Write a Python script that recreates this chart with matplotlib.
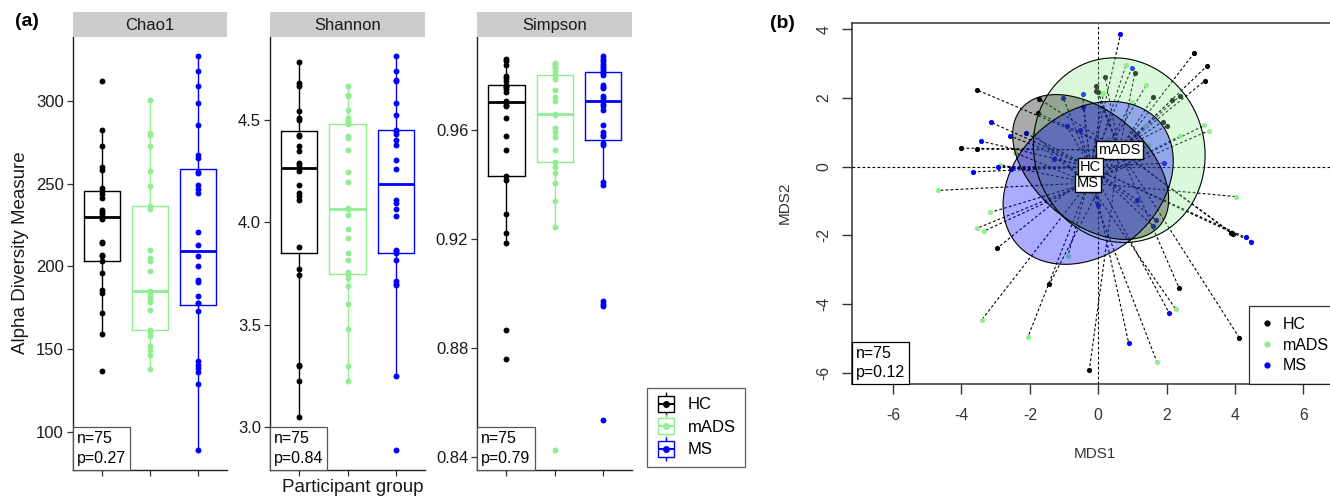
import numpy as np
import matplotlib
matplotlib.use("Agg")
import matplotlib.pyplot as plt
from matplotlib.lines import Line2D
from matplotlib.offsetbox import AnchoredText
from matplotlib.legend_handler import HandlerTuple

plt.rcParams['font.family'] = ['Liberation Sans', 'DejaVu Sans']

# ---------------- data: panel (a) alpha diversity ----------------
groups = ["HC", "mADS", "MS"]
group_colors = ["black", "lightgreen", "blue"]

chao1_hc = [312.3, 282.8, 272.7, 260.0, 258.2, 247.5, 245.5, 243.9, 241.7, 234.4, 233.2, 231.6,
            230.0, 229.0, 215.0, 214.0, 207.1, 206.1, 203.3, 196.0, 186.0, 184.0, 171.8, 159.1, 136.9]
chao1_mads = [301.0, 280.8, 279.8, 273.1, 257.6, 248.9, 236.4, 234.8, 210.2, 205.1, 203.1, 197.1,
              185.4, 183.9, 182.3, 180.5, 178.3, 173.9, 161.7, 160.1, 157.7, 151.7, 149.6, 146.6, 137.9]
chao1_ms = [327.2, 318.1, 309.0, 299.0, 285.8, 267.7, 265.7, 257.0, 256.5, 249.5, 246.9, 244.5, 220.9,
            212.8, 206.1, 200.1, 192.0, 190.4, 181.9, 178.0, 177.9, 172.8, 142.6, 140.6, 138.5,
            135.9, 128.9, 88.7]

shannon_hc = [4.782, 4.681, 4.668, 4.542, 4.510, 4.502, 4.428, 4.420, 4.371, 4.347, 4.290, 4.279,
              4.249, 4.184, 4.143, 4.127, 4.111, 3.879, 3.772, 3.744, 3.305, 3.296, 3.223, 3.049]
shannon_mads = [4.665, 4.624, 4.616, 4.550, 4.510, 4.494, 4.490, 4.480, 4.423, 4.412, 4.355, 4.244,
                4.195, 4.070, 4.065, 4.037, 3.967, 3.923, 3.850, 3.818, 3.756, 3.750, 3.750, 3.728,
                3.687, 3.601, 3.479, 3.300, 3.226]
shannon_ms = [4.811, 4.738, 4.697, 4.689, 4.583, 4.526, 4.453, 4.445, 4.430, 4.400, 4.376, 4.306,
              4.261, 4.111, 4.094, 4.065, 4.029, 3.866, 3.860, 3.850, 3.814, 3.712, 3.700, 3.695,
              3.248, 2.886]

simpson_hc = [0.9859, 0.9851, 0.9838, 0.9798, 0.9790, 0.9777, 0.9765, 0.9761, 0.9755, 0.9749,
              0.9737, 0.9704, 0.9700, 0.9690, 0.9686, 0.9643, 0.9576, 0.9524, 0.9429, 0.9417,
              0.9291, 0.9221, 0.9185, 0.8867, 0.8758]
simpson_mads = [0.9844, 0.9840, 0.9835, 0.9830, 0.9826, 0.9814, 0.9802, 0.9800, 0.9786, 0.9747,
                0.9719, 0.9706, 0.9658, 0.9655, 0.9606, 0.9590, 0.9573, 0.9527, 0.9480, 0.9462,
                0.9441, 0.9405, 0.9337, 0.9243, 0.8424]
simpson_ms = [0.9869, 0.9860, 0.9853, 0.9842, 0.9835, 0.9826, 0.9818, 0.9812, 0.9808, 0.9800,
              0.9765, 0.9757, 0.9753, 0.9725, 0.9716, 0.9704, 0.9695, 0.9686, 0.9673, 0.9618,
              0.9590, 0.9580, 0.9576, 0.9551, 0.9545, 0.9407, 0.9398, 0.8971, 0.8959, 0.8952,
              0.8534]

metric_names = ["Chao1", "Shannon", "Simpson"]
metric_data = [[chao1_hc, chao1_mads, chao1_ms],
               [shannon_hc, shannon_mads, shannon_ms],
               [simpson_hc, simpson_mads, simpson_ms]]
metric_ticks = [[100, 150, 200, 250, 300], [3.0, 3.5, 4.0, 4.5], [0.84, 0.88, 0.92, 0.96]]
metric_ticklabels = [["100", "150", "200", "250", "300"], ["3.0", "3.5", "4.0", "4.5"],
                     ["0.84", "0.88", "0.92", "0.96"]]
metric_pvalues = ["0.27", "0.84", "0.79"]
n_total = 75

# ---------------- data: panel (b) NMDS ----------------
hc_x = [-3.54, -4.01, -3.54, -1.73, -1.75, -0.07, -0.07, 0.00, 0.20, 2.80, 3.19, 3.12, 1.07, 1.61,
        2.15, 2.39, 1.88, 2.00, -2.97, -1.43, -0.26, 3.95, 3.87, 2.36, 4.12]
hc_y = [2.23, 0.54, 0.51, 1.97, 1.55, 2.35, 2.20, 2.16, 2.60, 3.30, 2.94, 2.50, 2.72, 2.02,
        1.94, 2.06, 1.31, 1.18, -2.38, -3.42, -5.91, -1.96, -1.92, -3.52, -4.97]
mads_x = [-2.87, -4.68, -2.44, -1.56, -0.89, -1.88, 0.15, 0.81, 0.29, -0.78, 1.41, 0.98, 3.10,
          3.24, 2.39, 1.37, 1.46, 4.02, -3.15, -3.54, -3.33, -3.41, -2.05, 2.27, 1.72]
mads_y = [0.06, -0.69, 0.41, 0.51, -2.60, 0.94, 2.13, 2.96, 0.81, -0.45, 2.38, 1.89, 1.20,
          1.05, 0.89, 1.18, 0.63, -0.87, -1.33, -1.79, -1.87, -4.46, -4.94, -4.15, -5.69]
ms_x = [0.65, -3.14, -2.58, -2.11, -3.42, -2.92, -3.65, -2.55, -1.02, -0.92, -1.30, -0.46, -0.44,
        -0.54, 0.98, 1.93, -0.02, 0.89, 4.32, 4.48, 1.68, 1.61, 1.12, 2.08]
ms_y = [3.85, 1.29, 0.89, 0.97, 0.74, 0.00, -0.15, -0.06, 1.99, 1.18, 0.21, 2.11, 1.73,
        1.07, 2.86, 0.10, -1.11, -5.13, -2.06, -2.18, -1.55, -1.74, -0.97, -4.27]
nmds_x = {"HC": hc_x, "mADS": mads_x, "MS": ms_x}
nmds_y = {"HC": hc_y, "mADS": mads_y, "MS": ms_y}
# as published: ellipse colour and centroid label attached to each group
ellipse_color = {"HC": "lightgreen", "mADS": "blue", "MS": "black"}
centroid_label = {"HC": "mADS", "mADS": "MS", "MS": "HC"}
ellipse_order = ["HC", "MS", "mADS"]
nmds_p = "0.12"

# ---------------- figure ----------------
W, H = 1330, 498
fig = plt.figure(figsize=(W / 100, H / 100), dpi=100)


def fax(x0, y0, x1, y1):
    return [x0 / W, 1 - y1 / H, (x1 - x0) / W, (y1 - y0) / H]


panel_x = [(72.7, 227.3), (270.0, 425.0), (477.3, 632.3)]
ax_top, ax_bot, strip_top = 36.7, 470.0, 12.0
tick_col = "#1a1a1a"

for k in range(3):
    x0, x1 = panel_x[k]
    ax = fig.add_axes(fax(x0, ax_top, x1, ax_bot))
    data = metric_data[k]
    bp = ax.boxplot(data, positions=[1, 2, 3], widths=0.75, whis=1.5, showfliers=False,
                    showcaps=False, manage_ticks=False,
                    boxprops=dict(linewidth=1.0), whiskerprops=dict(linewidth=1.0),
                    medianprops=dict(linewidth=2.0))
    for g, col in enumerate(group_colors):
        bp["boxes"][g].set_color(col)
        bp["medians"][g].set_color(col)
        bp["whiskers"][2 * g].set_color(col)
        bp["whiskers"][2 * g + 1].set_color(col)
    for g, (vals, col) in enumerate(zip(data, group_colors)):
        ax.scatter(np.full(len(vals), g + 1), vals, s=18, color=col, zorder=3, linewidths=0)
    allv = np.concatenate([np.asarray(v) for v in data])
    lo, hi = allv.min(), allv.max()
    pad = 0.05 * (hi - lo)
    ax.set_ylim(lo - pad, hi + pad)
    ax.set_xlim(0.4, 3.6)
    ax.set_xticks([1, 2, 3])
    ax.set_xticklabels([])
    ax.set_yticks(metric_ticks[k])
    ax.set_yticklabels(metric_ticklabels[k])
    for s in ["top", "right"]:
        ax.spines[s].set_visible(False)
    for s in ["left", "bottom"]:
        ax.spines[s].set_linewidth(1.0)
        ax.spines[s].set_color("#222222")
    ax.tick_params(axis="both", length=4.5, width=0.9, color="#333333", labelsize=12,
                   labelcolor=tick_col, pad=2)
    at = AnchoredText(f"n={n_total}\np={metric_pvalues[k]}", loc="lower left", frameon=True,
                      borderpad=0, pad=0.25, prop=dict(size=11.5, linespacing=1.4))
    at.patch.set_boxstyle("square,pad=0")
    at.patch.set_edgecolor("#555555")
    at.patch.set_linewidth(0.9)
    ax.add_artist(at)
    # strip
    sax = fig.add_axes(fax(x0, strip_top, x1, ax_top))
    sax.set_facecolor("#cccccc")
    sax.set_xticks([])
    sax.set_yticks([])
    for s in sax.spines.values():
        s.set_visible(False)
    sax.text(0.5, 0.47, metric_names[k], ha="center", va="center", fontsize=12,
             color="#1a1a1a", transform=sax.transAxes)

fig.text(20.7 / W, 1 - 253 / H, "Alpha Diversity Measure", rotation=90, ha="center", va="center",
         fontsize=13.5, color="#1a1a1a")
fig.text(352.5 / W, 1 - 487 / H, "Participant group", ha="center", va="center", fontsize=13.5,
         color="#1a1a1a")
fig.text(27 / W, 1 - 22 / H, "(a)", ha="center", va="center", fontsize=14, fontweight="bold")
fig.text(782 / W, 1 - 24 / H, "(b)", ha="center", va="center", fontsize=14, fontweight="bold")

# legend for panel (a)
handles = []
for col in group_colors:
    h = (Line2D([], [], marker="|", ms=17, mew=1.0, color=col, ls="none"),
         Line2D([], [], marker="s", ms=11, mfc="white", mec=col, mew=1.0, ls="none"),
         Line2D([], [], marker="_", ms=11, mew=1.5, color=col, ls="none"),
         Line2D([], [], marker="o", ms=4, color=col, ls="none"))
    handles.append(h)
leg = fig.legend(handles, groups, handler_map={tuple: HandlerTuple(ndivide=1)},
                 loc="upper left", bbox_to_anchor=(646.7 / W, 1 - 388.3 / H), borderaxespad=0,
                 frameon=True, fancybox=False, edgecolor="#333333", fontsize=12,
                 handlelength=1.2, handletextpad=0.7, labelspacing=0.45, borderpad=0.55)
leg.get_frame().set_linewidth(0.9)

# ---------------- panel (b) ----------------
bx = fig.add_axes(fax(852.3, 23.3, 1337.7, 384.3))
bx.set_xlim(-7.19, 7.0)
bx.set_ylim(-6.33, 4.17)
bx.axhline(0, color="black", lw=0.8, ls=(0, (2.5, 2)), zorder=1)
bx.axvline(0, color="black", lw=0.8, ls=(0, (2.5, 2)), zorder=1)

centroids = {}
for g, col in zip(groups, group_colors):
    x = np.asarray(nmds_x[g])
    y = np.asarray(nmds_y[g])
    cx, cy = x.mean(), y.mean()
    centroids[g] = (cx, cy)
    for xi, yi in zip(x, y):
        bx.plot([cx, xi], [cy, yi], color="black", lw=0.8, ls=(0, (2.5, 2)), zorder=2)
for g, col in zip(groups, group_colors):
    bx.scatter(nmds_x[g], nmds_y[g], s=14, color=col, zorder=3, linewidths=0)

t = np.linspace(0, 2 * np.pi, 200)
for g in ellipse_order:
    x = np.asarray(nmds_x[g])
    y = np.asarray(nmds_y[g])
    cov = np.cov(np.vstack([x, y]))
    vals, vecs = np.linalg.eigh(cov)
    circ = np.vstack([np.cos(t), np.sin(t)])
    pts = vecs @ (np.sqrt(vals)[:, None] * circ)
    bx.fill(x.mean() + pts[0], y.mean() + pts[1], facecolor=ellipse_color[g], alpha=0.33,
            edgecolor="none", zorder=4)
    bx.plot(x.mean() + pts[0], y.mean() + pts[1], color="black", lw=0.8, zorder=5)

for g in groups:
    cx, cy = centroids[g]
    bx.text(cx, cy, centroid_label[g], ha="center", va="center", fontsize=10.5, zorder=6,
            bbox=dict(boxstyle="square,pad=0.15", facecolor="white", edgecolor="black", lw=1.0))

bx.set_xticks([-6, -4, -2, 0, 2, 4, 6])
bx.set_xticklabels(["-6", "-4", "-2", "0", "2", "4", "6"])
bx.set_yticks([-6, -4, -2, 0, 2, 4])
bx.set_yticklabels(["-6", "-4", "-2", "0", "2", "4"], rotation=90, va="center")
bx.tick_params(axis="both", length=7, width=1.0, labelsize=11.3, labelcolor="#333333",
               color="#333333")
bx.tick_params(axis="x", pad=10)
bx.tick_params(axis="y", pad=8)
for s in bx.spines.values():
    s.set_linewidth(1.1)
    s.set_color("#333333")
fig.text(1095 / W, 1 - 454 / H, "MDS1", ha="center", va="center", fontsize=11, color="#333333")
fig.text(785 / W, 1 - 203 / H, "MDS2", ha="center", va="center", fontsize=11, color="#333333",
         rotation=90)

atb = AnchoredText(f"n={n_total}\np={nmds_p}", loc="lower left", frameon=True, borderpad=0,
                   pad=0.25, prop=dict(size=11.5, linespacing=1.4))
atb.patch.set_boxstyle("square,pad=0")
atb.patch.set_linewidth(0.9)
bx.add_artist(atb)

bh = [Line2D([], [], marker="o", ms=3.5, color=c, ls="none") for c in group_colors]
lb = bx.legend(bh, groups, loc="lower right", bbox_to_anchor=(1340.0 / W, 1 - 384.3 / H),
               bbox_transform=fig.transFigure, borderaxespad=0,
               frameon=True, fancybox=False, edgecolor="black", fontsize=11.5, handlelength=0.8,
               handletextpad=0.6, labelspacing=0.35, borderpad=0.7)
lb.get_frame().set_linewidth(0.9)
lb.set_zorder(7)

fig.savefig("out.png", dpi=100)
